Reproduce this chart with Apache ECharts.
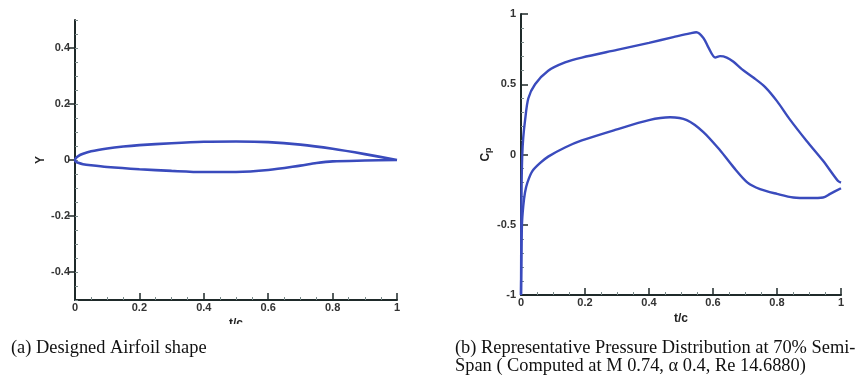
<!DOCTYPE html>
<html>
<head>
<meta charset="utf-8">
<script src="https://cdn.jsdelivr.net/npm/echarts@6/dist/echarts.min.js"></script>
<style>
  html, body { margin: 0; padding: 0; background: #fff; }
  #chart { width: 858px; height: 392px; }
</style>
</head>
<body>
<div id="chart"></div>
<script>
// Airfoil section: upper and lower surface ordinates (t/c vs Y)
var upperX = [1.0, 0.9, 0.8, 0.7, 0.6, 0.5, 0.4, 0.3, 0.2, 0.15, 0.1, 0.05, 0.025, 0.01, 0.003, 0.0];
var upperY = [0.0, 0.021, 0.040, 0.055, 0.064, 0.066, 0.065, 0.060, 0.053, 0.048, 0.041, 0.031, 0.022, 0.014, 0.007, 0.0];
var lowerX = [0.003, 0.01, 0.025, 0.05, 0.1, 0.2, 0.3, 0.4, 0.5, 0.6, 0.7, 0.75, 0.8, 0.9, 1.0];
var lowerY = [-0.006, -0.010, -0.015, -0.019, -0.025, -0.033, -0.039, -0.043, -0.043, -0.036, -0.020, -0.011, -0.005, -0.002, 0.0];

// Pressure distribution at 70% semi-span
var cpUpperX = [0.0, 0.001, 0.002, 0.004, 0.007, 0.0125, 0.023, 0.044, 0.085, 0.1375, 0.19, 0.3, 0.4, 0.476, 0.528, 0.548, 0.57, 0.586, 0.607, 0.622, 0.643, 0.664, 0.69, 0.726, 0.763, 0.8, 0.84, 0.892, 0.944, 0.99, 1.0];
var cpUpperY = [-1.0, -0.5, -0.2, 0.0, 0.12, 0.24, 0.40, 0.50, 0.596, 0.655, 0.69, 0.745, 0.795, 0.835, 0.862, 0.87, 0.83, 0.76, 0.69, 0.70, 0.69, 0.66, 0.608, 0.548, 0.48, 0.38, 0.25, 0.098, -0.045, -0.187, -0.20];
var cpLowerX = [0.0, 0.001, 0.003, 0.007, 0.0125, 0.02, 0.035, 0.06, 0.085, 0.1375, 0.19, 0.294, 0.4, 0.466, 0.518, 0.57, 0.622, 0.664, 0.708, 0.747, 0.8, 0.851, 0.903, 0.944, 0.966, 1.0];
var cpLowerY = [-1.0, -0.8, -0.5, -0.37, -0.27, -0.2, -0.12, -0.06, -0.015, 0.05, 0.10, 0.175, 0.245, 0.265, 0.245, 0.16, 0.03, -0.09, -0.2, -0.246, -0.28, -0.306, -0.31, -0.306, -0.28, -0.24];

// Labelled tick values on the airfoil Y axis
var yTicksA = [-0.4, -0.2, 0, 0.2, 0.4];

function pairs(xs, ys) {
  return xs.map(function (x, i) { return [x, ys[i]]; });
}
function fmt(v) { return String(+v.toFixed(2)); }

var lineColor = '#3a4bbd';
var axisColor = '#1f2a2a';
var labelStyle = { color: '#333', fontFamily: 'Liberation Sans, Arial, sans-serif', fontWeight: 'bold', fontSize: 11 };
var nameStyle = { color: '#222', fontFamily: 'Liberation Sans, Arial, sans-serif', fontWeight: 'bold', fontSize: 12 };

function xAxisFor(grid, nameGap) {
  return {
    type: 'value', gridIndex: grid, min: 0, max: 1, interval: 0.2,
    name: 't/c', nameLocation: 'middle', nameGap: nameGap, nameTextStyle: nameStyle,
    axisLine: { show: true, onZero: false, lineStyle: { color: axisColor, width: 2 } },
    axisTick: { show: true, inside: true, length: 7, lineStyle: { color: axisColor, width: 1.5 } },
    minorTick: { show: true, splitNumber: 4, length: 3, lineStyle: { color: '#7a8a8a', width: 1 } },
    axisLabel: Object.assign({ margin: 2, formatter: fmt }, labelStyle),
    splitLine: { show: false }, minorSplitLine: { show: false }
  };
}

var airfoil = pairs(upperX, upperY).concat(pairs(lowerX, lowerY));
var captionFont = '18.4px "Liberation Serif", "Times New Roman", serif';

var option = {
  animation: false,
  backgroundColor: '#fff',
  grid: [
    { left: 75, top: 20, width: 322, height: 280 },
    { left: 521, top: 14, width: 320, height: 281 }
  ],
  xAxis: [xAxisFor(0, 13), xAxisFor(1, 12)],
  yAxis: [
    {
      type: 'value', gridIndex: 0, min: -0.5, max: 0.5, interval: 0.05,
      name: 'Y', nameLocation: 'middle', nameGap: 24, nameRotate: 90,
      nameTextStyle: nameStyle,
      axisLine: { show: true, onZero: false, lineStyle: { color: axisColor, width: 2 } },
      axisTick: { show: true, inside: true, length: 3, lineStyle: { color: '#7a8a8a', width: 1 } },
      axisLabel: Object.assign({ margin: 5, customValues: yTicksA, formatter: fmt }, labelStyle),
      splitLine: { show: false }
    },
    {
      type: 'value', gridIndex: 0, min: -0.5, max: 0.5,
      axisLine: { show: false },
      axisTick: { show: true, inside: true, length: 7, customValues: yTicksA, lineStyle: { color: axisColor, width: 1.5 } },
      axisLabel: { show: false },
      splitLine: { show: false }
    },
    {
      type: 'value', gridIndex: 1, min: -1, max: 1, interval: 0.5,
      name: '{c|C}{p|p}', nameLocation: 'middle', nameGap: 22, nameRotate: 90,
      nameTextStyle: {
        rich: {
          c: { color: '#222', fontFamily: 'Liberation Sans, Arial, sans-serif', fontWeight: 'bold', fontSize: 12 },
          p: { color: '#222', fontFamily: 'Liberation Sans, Arial, sans-serif', fontWeight: 'bold', fontSize: 9, padding: [5, 0, 0, 0] }
        }
      },
      axisLine: { show: true, onZero: false, lineStyle: { color: axisColor, width: 2 } },
      axisTick: { show: true, inside: true, length: 7, lineStyle: { color: axisColor, width: 1.5 } },
      minorTick: { show: true, splitNumber: 5, length: 3, lineStyle: { color: '#7a8a8a', width: 1 } },
      axisLabel: Object.assign({ margin: 5, formatter: fmt }, labelStyle),
      splitLine: { show: false }, minorSplitLine: { show: false }
    }
  ],
  series: [
    {
      type: 'line', xAxisIndex: 0, yAxisIndex: 0, data: airfoil,
      smooth: 0.3, showSymbol: false, lineStyle: { color: lineColor, width: 2.6 }
    },
    {
      type: 'line', xAxisIndex: 1, yAxisIndex: 2, data: pairs(cpUpperX, cpUpperY),
      smooth: 0.3, showSymbol: false, lineStyle: { color: lineColor, width: 2.4 }
    },
    {
      type: 'line', xAxisIndex: 1, yAxisIndex: 2, data: pairs(cpLowerX, cpLowerY),
      smooth: 0.3, showSymbol: false, lineStyle: { color: lineColor, width: 2.4 }
    }
  ],
  graphic: [
    // the left panel's axis title is trimmed at the bottom edge of the plot frame
    {
      type: 'rect', left: 215, top: 324, z: 100,
      shape: { width: 45, height: 10 }, style: { fill: '#fff' }
    },
    {
      type: 'text', left: 11, top: 339,
      style: { text: '(a) Designed Airfoil shape', fill: '#111', font: captionFont }
    },
    {
      type: 'text', left: 455, top: 339,
      style: {
        text: '(b) Representative Pressure Distribution at 70% Semi-\nSpan ( Computed at M 0.74, \u03b1 0.4, Re 14.6880)',
        fill: '#111', font: captionFont, lineHeight: 18
      }
    }
  ]
};

var chart = echarts.init(document.getElementById('chart'), null, { renderer: 'canvas' });
chart.setOption(option);
</script>
</body>
</html>
